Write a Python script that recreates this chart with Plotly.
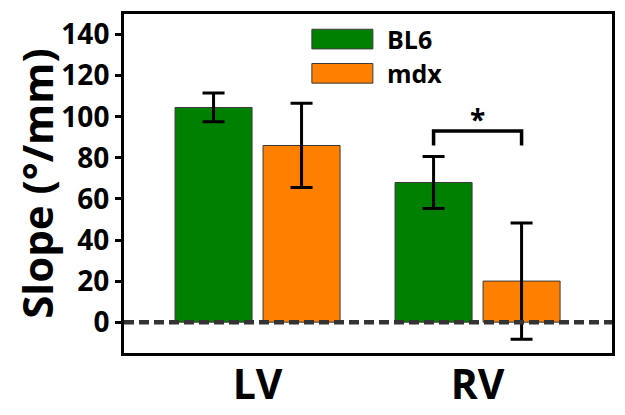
import plotly.graph_objects as go

# data
groups = ["LV", "RV"]
bl6_mean = [104.5, 68]
bl6_err = [7, 12.7]
mdx_mean = [86, 20]
mdx_err = [20.5, 28.3]

green = "#008000"
orange = "#ff8000"
font = "Open Sans"

fig = go.Figure()
fig.add_trace(go.Bar(x=[0, 1], y=bl6_mean, name="BL6",
                     marker=dict(color=green, line=dict(color="#3a3a3a", width=1)),
                     error_y=dict(type="data", array=bl6_err, color="black", thickness=3, width=11)))
fig.add_trace(go.Bar(x=[0, 1], y=mdx_mean, name="mdx",
                     marker=dict(color=orange, line=dict(color="#3a3a3a", width=1)),
                     error_y=dict(type="data", array=mdx_err, color="black", thickness=3, width=11)))

# dashed zero line
fig.add_shape(type="line", xref="paper", yref="y", x0=0, x1=1, y0=0, y1=0,
              line=dict(color="#333333", width=4.5, dash="10px,5px"))

# significance bracket over RV
fig.add_shape(type="path", xref="x", yref="y",
              path="M 0.8,86 L 0.8,93 L 1.2,93 L 1.2,86",
              line=dict(color="black", width=3.5))
fig.add_annotation(x=1.0, y=99, xref="x", yref="y", text="<b>*</b>", showarrow=False,
                   font=dict(family=font, size=28, color="black"))

# custom legend with large swatches
for i, (lab, col) in enumerate([("BL6", green), ("mdx", orange)]):
    y0 = 0.897 - i * 0.101
    fig.add_shape(type="rect", xref="paper", yref="paper", x0=0.385, x1=0.51,
                  y0=y0, y1=y0 + 0.058, fillcolor=col, line=dict(color="#3a3a3a", width=1))
    fig.add_annotation(x=0.535, y=y0 + 0.029, xref="paper", yref="paper", text=f"<b>{lab}</b>",
                       showarrow=False, xanchor="left", yanchor="middle",
                       font=dict(family=font, size=25, color="black"))

# page body has an 8px margin, so the figure is sized to fit inside the window
fig.update_layout(
    width=617, height=407,
    margin=dict(l=116, r=13, t=6, b=62),
    paper_bgcolor="white", plot_bgcolor="white",
    barmode="group", bargap=0.2, bargroupgap=0.125,
    showlegend=False,
    font=dict(family=font, color="black"),
)
fig.update_xaxes(range=[-0.607, 1.611], tickvals=[0, 1],
                 ticktext=[f"<b>{g}</b>" for g in groups],
                 tickfont=dict(size=41, family=font), ticks="", ticklabelstandoff=-6,
                 showgrid=False, zeroline=False,
                 showline=True, linecolor="black", linewidth=3, mirror=True, automargin=False)
fig.update_yaxes(range=[-15, 150], tickvals=list(range(0, 141, 20)),
                 ticktext=[f"<b>{v}</b>" for v in range(0, 141, 20)],
                 tickfont=dict(size=28, family=font), ticks="outside", ticklen=6, tickwidth=3,
                 tickcolor="black", showgrid=False, zeroline=False, automargin=False,
                 showline=True, linecolor="black", linewidth=3, mirror=True,
                 title=dict(text="<b>Slope (°/mm)</b>", font=dict(size=42, family=font), standoff=6))

fig.write_html("out.html")
